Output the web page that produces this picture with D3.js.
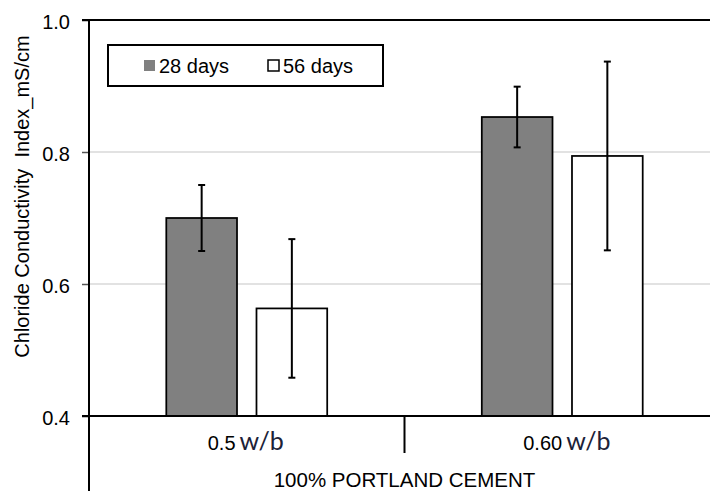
<!DOCTYPE html>
<html>
<head>
<meta charset="utf-8">
<script src="https://cdn.jsdelivr.net/npm/d3@7"></script>
<style>
  html, body { margin: 0; padding: 0; background: #fff; }
  svg { display: block; font-family: "Liberation Sans", Arial, sans-serif; }
</style>
</head>
<body>
<svg id="chart" width="710" height="491"></svg>
<script>
// Mix groups (w/b ratio) and curing ages
const categories = ["0.5", "0.60"];
const series = ["28 days", "56 days"];
const values28 = [0.700, 0.853];
const values56 = [0.563, 0.794];
const errors28 = [0.050, 0.046];
const errors56 = [0.105, 0.143];
const yTicks = [0.4, 0.6, 0.8, 1.0];
const unitLabel = "w/b";
const groupTitle = "100% PORTLAND CEMENT";
const yTitle = "Chloride Conductivity  Index_mS/cm";

const svg = d3.select("#chart");
const plotLeft = 89, plotRight = 720, plotTop = 20, plotBottom = 416;
const fontSize = 20;

const y = d3.scaleLinear().domain([0.4, 1.0]).range([plotBottom, plotTop]);
const x0 = d3.scaleBand().domain(categories).range([plotLeft, plotRight]).padding(0);
const x1 = d3.scaleBand().domain(series).range([0, x0.bandwidth()])
  .paddingInner(0.216).paddingOuter(0.857);

const fills = { "28 days": "#808080", "56 days": "#ffffff" };

// gridlines
svg.append("g").selectAll("line")
  .data(yTicks.filter(t => t > 0.4 && t < 1.0))
  .join("line")
  .attr("x1", plotLeft).attr("x2", 710)
  .attr("y1", d => y(d)).attr("y2", d => y(d))
  .attr("stroke", "#d9d9d9").attr("stroke-width", 1.5);

// top frame line
svg.append("line")
  .attr("x1", plotLeft - 7).attr("x2", 710)
  .attr("y1", y(1.0)).attr("y2", y(1.0))
  .attr("stroke", "#000").attr("stroke-width", 2);

// y axis
const yAxis = d3.axisLeft(y).tickValues(yTicks).tickFormat(d3.format(".1f")).tickSize(7).tickPadding(12);
const ya = svg.append("g").attr("transform", `translate(${plotLeft},0)`).call(yAxis);
ya.select(".domain").remove();
ya.selectAll(".tick line")
  .attr("stroke", d => (d === 0.4 || d === 1.0) ? "#000" : "#555")
  .attr("stroke-width", 1.5);
ya.selectAll(".tick text").attr("font-size", fontSize).attr("fill", "#000")
  .attr("dy", "0.42em")
  .attr("font-family", "Liberation Sans, Arial, sans-serif");

// y axis line extending through the category label area
svg.append("line")
  .attr("x1", plotLeft).attr("x2", plotLeft)
  .attr("y1", plotTop - 1).attr("y2", 491)
  .attr("stroke", "#000").attr("stroke-width", 2);

// bars
const rows = [];
categories.forEach((c, i) => {
  rows.push({ cat: c, s: "28 days", v: values28[i], e: errors28[i] });
  rows.push({ cat: c, s: "56 days", v: values56[i], e: errors56[i] });
});

svg.append("g").selectAll("rect")
  .data(rows)
  .join("rect")
  .attr("x", d => x0(d.cat) + x1(d.s))
  .attr("y", d => y(d.v))
  .attr("width", x1.bandwidth())
  .attr("height", d => y(0.4) - y(d.v))
  .attr("fill", d => fills[d.s])
  .attr("stroke", "#000").attr("stroke-width", 1.75);

// error bars
const eb = svg.append("g").attr("stroke", "#000").attr("stroke-width", 2);
rows.forEach(d => {
  const cx = x0(d.cat) + x1(d.s) + x1.bandwidth() / 2;
  eb.append("line").attr("x1", cx).attr("x2", cx)
    .attr("y1", y(d.v + d.e)).attr("y2", y(d.v - d.e));
  [d.v + d.e, d.v - d.e].forEach(v => {
    eb.append("line").attr("x1", cx - 3.5).attr("x2", cx + 3.5)
      .attr("y1", y(v)).attr("y2", y(v));
  });
});

// x axis baseline
svg.append("line")
  .attr("x1", plotLeft - 7).attr("x2", 710)
  .attr("y1", y(0.4)).attr("y2", y(0.4))
  .attr("stroke", "#000").attr("stroke-width", 2);

// divider between groups
svg.append("line")
  .attr("x1", x0(categories[1])).attr("x2", x0(categories[1]))
  .attr("y1", y(0.4)).attr("y2", y(0.4) + 37)
  .attr("stroke", "#000").attr("stroke-width", 2);

// category labels: ratio value followed by the unit
categories.forEach(c => {
  const t = svg.append("text")
    .attr("x", x0(c) + x0.bandwidth() / 2 - 39)
    .attr("y", 450)
    .attr("font-size", fontSize).attr("fill", "#000");
  t.append("tspan").text(c);
  t.append("tspan")
    .attr("dx", 4)
    .attr("font-family", "Lato, 'Open Sans', sans-serif")
    .attr("font-size", 25).attr("fill", "#1c2238")
    .text(unitLabel);
});

// group title
svg.append("text")
  .attr("x", (plotLeft + plotRight) / 2).attr("y", 487)
  .attr("text-anchor", "middle")
  .attr("font-size", 20.5).attr("fill", "#000")
  .text(groupTitle);

// y axis title
svg.append("text")
  .attr("transform", "translate(29,196.5) rotate(-90)")
  .attr("text-anchor", "middle")
  .attr("font-size", fontSize).attr("fill", "#000")
  .style("white-space", "pre")
  .text(yTitle);

// legend
const lg = svg.append("g");
lg.append("rect")
  .attr("x", 108).attr("y", 45).attr("width", 275).attr("height", 41)
  .attr("fill", "#fff").attr("stroke", "#000").attr("stroke-width", 2);
const legendX = [144, 268];
series.forEach((s, i) => {
  lg.append("rect")
    .attr("x", legendX[i]).attr("y", 60).attr("width", 11).attr("height", 11)
    .attr("fill", fills[s])
    .attr("stroke", i === 0 ? "none" : "#000").attr("stroke-width", 1.5);
  lg.append("text")
    .attr("x", legendX[i] + 15).attr("y", 72.5)
    .attr("font-size", fontSize).attr("fill", "#000")
    .text(s);
});
</script>
</body>
</html>
